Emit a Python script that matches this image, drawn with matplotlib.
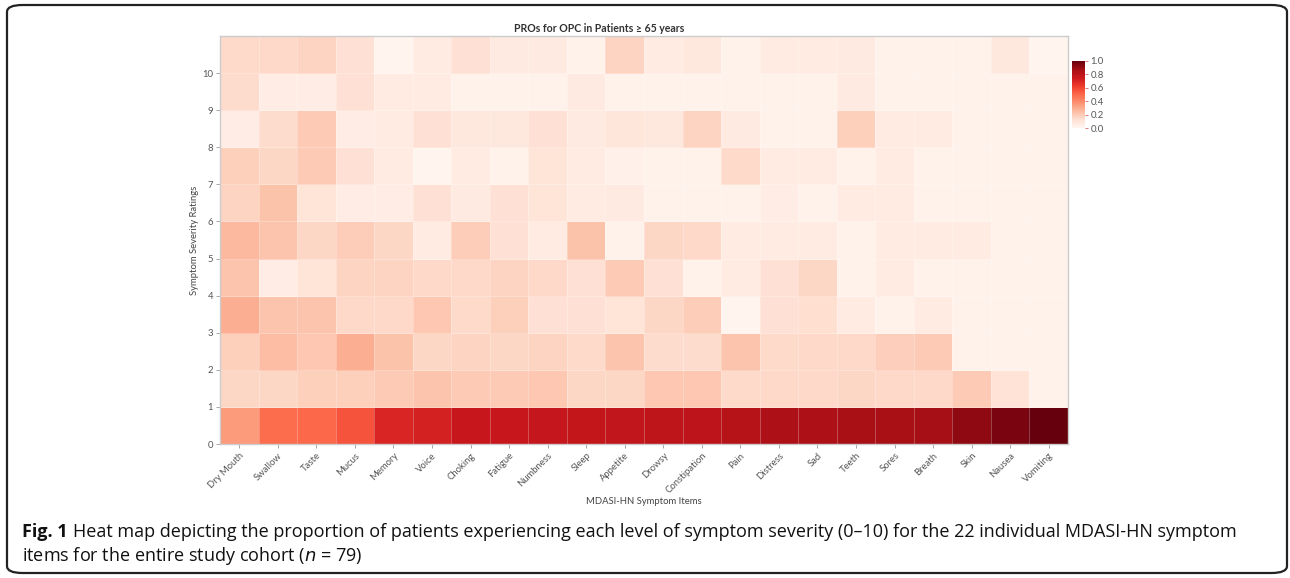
import numpy as np
import matplotlib
matplotlib.use("Agg")
import matplotlib.pyplot as plt
from matplotlib.patches import FancyBboxPatch

plt.rcParams["font.family"] = ["Lato", "DejaVu Sans"]

# Symptom items along the x axis
items = ["Dry Mouth", "Swallow", "Taste", "Mucus", "Memory", "Voice", "Choking",
         "Fatigue", "Numbness", "Sleep", "Appetite", "Drowsy", "Constipation",
         "Pain", "Distress", "Sad", "Teeth", "Sores", "Breath", "Skin", "Nausea",
         "Vomiting"]

# Severity levels on the y axis
severity = list(range(11))

# Proportion of patients at each severity level, one list per level
sev0 = [0.35, 0.49, 0.50, 0.56, 0.70, 0.72, 0.76, 0.76, 0.77, 0.78, 0.785,
        0.79, 0.80, 0.82, 0.845, 0.845, 0.86, 0.865, 0.87, 0.92, 0.96, 1.0]
sev1 = [0.16, 0.16, 0.18, 0.18, 0.20, 0.22, 0.20, 0.20, 0.21, 0.16, 0.16,
        0.21, 0.21, 0.145, 0.15, 0.15, 0.16, 0.15, 0.15, 0.20, 0.11, 0.02]
sev2 = [0.18, 0.245, 0.21, 0.29, 0.225, 0.16, 0.17, 0.16, 0.17, 0.145, 0.22,
        0.14, 0.14, 0.22, 0.145, 0.15, 0.15, 0.185, 0.20, 0.02, 0.02, 0.02]
sev3 = [0.29, 0.22, 0.22, 0.15, 0.15, 0.21, 0.145, 0.18, 0.12, 0.12, 0.10,
        0.16, 0.19, 0.01, 0.12, 0.13, 0.06, 0.02, 0.06, 0.02, 0.02, 0.02]
sev4 = [0.22, 0.05, 0.10, 0.17, 0.17, 0.15, 0.15, 0.17, 0.15, 0.12, 0.20,
        0.12, 0.02, 0.06, 0.12, 0.16, 0.02, 0.06, 0.02, 0.02, 0.02, 0.02]
sev5 = [0.255, 0.22, 0.16, 0.19, 0.16, 0.06, 0.19, 0.12, 0.06, 0.225, 0.02,
        0.16, 0.15, 0.06, 0.06, 0.06, 0.02, 0.06, 0.06, 0.06, 0.02, 0.02]
sev6 = [0.17, 0.225, 0.10, 0.05, 0.05, 0.12, 0.07, 0.12, 0.10, 0.06, 0.07,
        0.02, 0.02, 0.02, 0.05, 0.02, 0.06, 0.06, 0.02, 0.02, 0.02, 0.02]
sev7 = [0.18, 0.16, 0.20, 0.12, 0.06, 0.01, 0.06, 0.02, 0.10, 0.06, 0.03,
        0.02, 0.02, 0.145, 0.06, 0.06, 0.02, 0.06, 0.02, 0.02, 0.02, 0.02]
sev8 = [0.05, 0.14, 0.20, 0.05, 0.06, 0.12, 0.08, 0.08, 0.12, 0.07, 0.09,
        0.08, 0.17, 0.07, 0.02, 0.02, 0.18, 0.06, 0.06, 0.02, 0.02, 0.02]
sev9 = [0.14, 0.05, 0.05, 0.12, 0.06, 0.06, 0.02, 0.02, 0.02, 0.07, 0.02,
        0.02, 0.02, 0.02, 0.02, 0.02, 0.07, 0.02, 0.02, 0.02, 0.02, 0.02]
sev10 = [0.145, 0.15, 0.17, 0.12, 0.01, 0.06, 0.12, 0.07, 0.07, 0.02, 0.17,
         0.06, 0.08, 0.02, 0.06, 0.06, 0.07, 0.02, 0.02, 0.02, 0.08, 0.01]

grid = np.array([sev0, sev1, sev2, sev3, sev4, sev5, sev6, sev7, sev8, sev9, sev10])

W, H = 1290, 578
fig = plt.figure(figsize=(W / 100, H / 100), dpi=100)

# rounded frame around the figure and caption
frame = FancyBboxPatch((7 / W, 5 / H), 1280 / W, 568 / H,
                       boxstyle="round,pad=0,rounding_size=0.012",
                       transform=fig.transFigure, fill=False,
                       edgecolor="#222222", linewidth=1.6)
fig.patches.append(frame)

ax = fig.add_axes([220 / W, 1 - 444 / H, 848 / W, 408 / H])
xe = np.arange(len(items) + 1)
ye = np.arange(len(severity) + 1)
mesh = ax.pcolormesh(xe, ye, grid, cmap="Reds", vmin=0, vmax=1,
                     edgecolors=(1, 1, 1, 0.25), linewidth=0.6)

ax.set_xlim(0, len(items))
ax.set_ylim(0, len(severity))
ax.set_xticks(np.arange(len(items)) + 0.5)
ax.set_xticklabels(items, rotation=45, ha="right", rotation_mode="anchor")
ax.set_yticks(severity)
ax.tick_params(axis="both", labelsize=6.8, labelcolor="#555555",
               color="#999999", length=3, width=0.6, pad=2)
for s in ax.spines.values():
    s.set_color("#cccccc")
    s.set_linewidth(1.0)

ax.set_ylabel("Symptom Severity Ratings", fontsize=6.8, color="#444444")
ax.yaxis.set_label_coords(-21 / 848, 0.5)
ax.set_xlabel("MDASI-HN Symptom Items", fontsize=6.8, color="#444444")
ax.xaxis.set_label_coords(0.5, -53 / 408)
fig.text(599 / W, 1 - 29 / H, "PROs for OPC in Patients \u2265 65 years",
         ha="center", va="center", fontsize=7.6, fontweight="bold", color="#333333")

# colour scale
cax = fig.add_axes([1072 / W, 1 - 128 / H, 13 / W, 67 / H])
cb = fig.colorbar(mesh, cax=cax, ticks=[0, 0.2, 0.4, 0.6, 0.8, 1.0])
cb.outline.set_visible(False)
cb.ax.set_yticklabels(["0.0", "0.2", "0.4", "0.6", "0.8", "1.0"])
cb.ax.tick_params(labelsize=6.8, labelcolor="#555555", color="#e06060",
                  length=2, width=0.6, pad=2)

# figure caption: bold label, then the text placed right after it
cap_y = 1 - 532 / H
lab = fig.text(22 / W, cap_y, "Fig. 1", fontsize=13, fontweight="bold",
               family="Open Sans", ha="left", va="center", color="#111111")
fig.canvas.draw()
x_end = lab.get_window_extent().x1 / W
fig.text(x_end + 5 / W, cap_y,
         "Heat map depicting the proportion of patients experiencing each level of "
         "symptom severity (0\u201310) for the 22 individual MDASI-HN symptom",
         fontsize=13, family="Open Sans", ha="left", va="center", color="#111111")
fig.text(22 / W, 1 - 556 / H,
         "items for the entire study cohort ($\\it{n}$ = 79)",
         fontsize=13, family="Open Sans", ha="left", va="center", color="#111111")

fig.savefig("out.png", dpi=100)
